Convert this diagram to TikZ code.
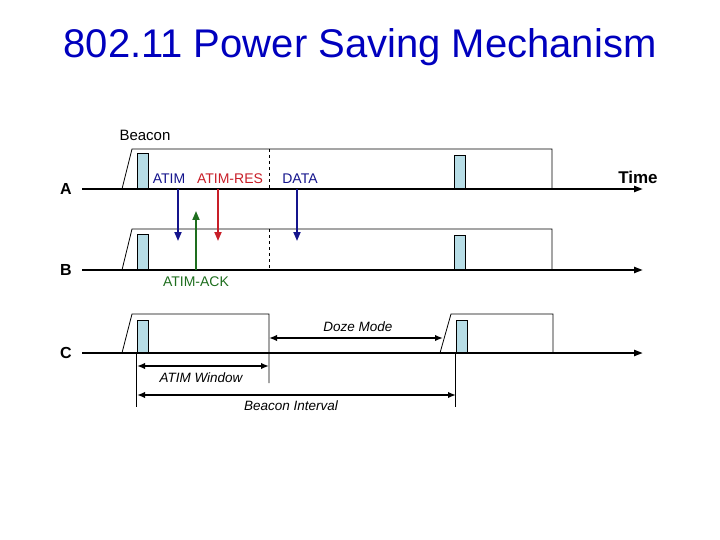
\documentclass[tikz,border=0pt]{standalone}
\usepackage{fontspec}
\setmainfont{Liberation Sans}
\usepackage{xcolor}
\usepackage{tikz}
\usetikzlibrary{positioning,arrows.meta}

\definecolor{titleblue}{RGB}{0,0,190}
\definecolor{bcnfill}{RGB}{183,221,230}
\definecolor{msgblue}{RGB}{20,20,140}
\definecolor{msgred}{RGB}{200,30,40}
\definecolor{msggreen}{RGB}{30,110,30}

\begin{document}
\begin{tikzpicture}[
    x=1pt, y=-1pt,
    station/.style={font=\fontsize{16}{18}\selectfont\bfseries},
    tline/.style={line width=2.2pt, -{Triangle[length=9pt,width=6pt]}},
    frame/.style={line width=0.8pt},
    bcn/.style={draw, line width=0.6pt, fill=bcnfill, minimum width=11pt, inner sep=0pt, anchor=south},
    msg/.style={line width=1.8pt, -{Triangle[length=9pt,width=7pt]}},
    lbl/.style={font=\fontsize{14}{16}\selectfont},
    ilbl/.style={font=\fontsize{13.5}{15}\selectfont\itshape},
    span/.style={line width=1.8pt, {Latex[length=8pt,width=6.5pt]}-{Latex[length=8pt,width=6.5pt]}}
  ]
    \useasboundingbox (0,0) rectangle (720,540);
    \node[font=\fontsize{40}{44}\selectfont, text=titleblue] (title) at (360,47) {802.11 Power Saving Mechanism};

    % time lines of the three stations
    \foreach \n/\y in {A/189,B/270,C/353}{
      \node[station] (\n) at (66,\y) {\n};
      \coordinate (\n-start) at (82,\y);
      \coordinate (\n-end) at (643,\y);
      \draw[tline] (\n-start) -- (\n-end);
    }
    \node[font=\fontsize{17}{19}\selectfont\bfseries] (time) at (638,177) {Time};

    % beacon intervals of A and B
    \foreach \y/\t in {189/149,270/229}{
      \draw[frame] (122,\y) -- (132,\t) -- (552,\t) -- (552,\y);
      \draw[frame, dashed] (269,\t) -- (269,\y);
    }
    \node[bcn, minimum height=35pt] (bcnA1) at (142.5,189) {};
    \node[bcn, minimum height=33pt] (bcnA2) at (459.5,189) {};
    \node[bcn, minimum height=35pt] (bcnB1) at (142.5,270) {};
    \node[bcn, minimum height=34pt] (bcnB2) at (459.5,270) {};
    \node[font=\fontsize{15}{17}\selectfont] (beacon) at (145,135) {Beacon};

    % station C sleeps after the ATIM window
    \draw[frame] (122,353) -- (132,314) -- (269,314) -- (269,383);
    \draw[frame] (440,353) -- (451,314) -- (553,314) -- (553,353);
    \node[bcn, minimum height=32pt] (bcnC1) at (142.5,353) {};
    \node[bcn, minimum height=32pt] (bcnC2) at (461.5,353) {};
    \draw[frame] (bcnC1.south west) -- ++(0,54);
    \draw[frame] (bcnC2.south west) -- ++(0,54);

    % messages between A and B
    \node[lbl, text=msgblue] (atim) at (169,179) {ATIM};
    \node[lbl, text=msgred] (atimres) at (230,179) {ATIM-RES};
    \node[lbl, text=msgblue] (data) at (300,179) {DATA};
    \node[lbl, text=msggreen] (atimack) at (196,282) {ATIM-ACK};
    \coordinate (atim-s) at (178,189);
    \coordinate (atim-e) at (178,241);
    \coordinate (res-s) at (218,189);
    \coordinate (res-e) at (218,241);
    \coordinate (data-s) at (297,189);
    \coordinate (data-e) at (297,241);
    \coordinate (ack-s) at (196,270);
    \coordinate (ack-e) at (196,211);
    \draw[msg, msgblue] (atim-s) -- (atim-e);
    \draw[msg, msgred] (res-s) -- (res-e);
    \draw[msg, msgblue] (data-s) -- (data-e);
    \draw[msg, msggreen] (ack-s) -- (ack-e);

    % durations
    \coordinate (doze-s) at (269,338);
    \coordinate (doze-e) at (443,338);
    \coordinate (win-s) at (137,366);
    \coordinate (win-e) at (269,366);
    \coordinate (int-s) at (137,395);
    \coordinate (int-e) at (456,395);
    \draw[span] (doze-s) -- (doze-e);
    \draw[span] (win-s) -- (win-e);
    \draw[span] (int-s) -- (int-e);
    \node[ilbl] (doze) at (358,327) {Doze Mode};
    \node[ilbl] (window) at (201,378) {ATIM Window};
    \node[ilbl] (interval) at (291,406) {Beacon Interval};
  \end{tikzpicture}
\end{document}
